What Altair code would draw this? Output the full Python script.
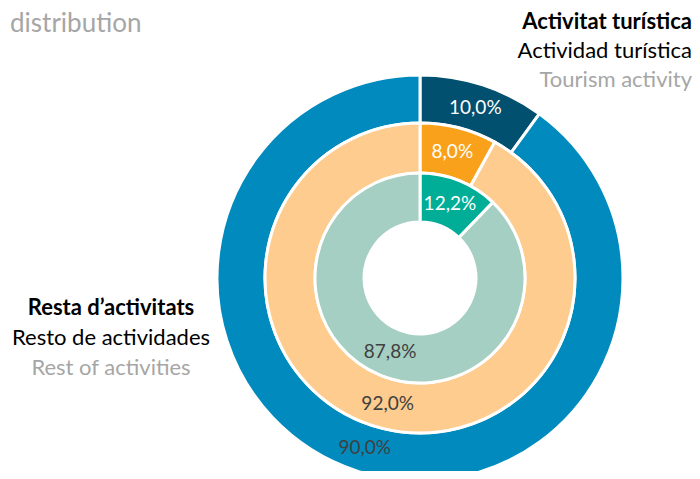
import altair as alt
import pandas as pd

# ---- data -------------------------------------------------------------
rings = ["outer", "outer", "middle", "middle", "inner", "inner"]
categories = ["Activitat turística", "Resta d'activitats"] * 3
shares = [10.0, 90.0, 8.0, 92.0, 12.2, 87.8]
order_idx = [0, 1, 0, 1, 0, 1]
fill_colors = ["#02506F", "#008ABD", "#F9A11B", "#FDCC8E", "#00AE98", "#A5CFC2"]
label_colors = ["#FFFFFF", "#404040"] * 3

title_lines = ["distribution"]
tourism_lines = ["Activitat turística", "Actividad turística", "Tourism activity"]
rest_lines = ["Resta d’activitats", "Resto de actividades", "Rest of activities"]

df = pd.DataFrame({
    "ring": rings,
    "category": categories,
    "share": shares,
    "idx": order_idx,
    "fill": fill_colors,
    "tcolor": label_colors,
})
df["label"] = [f"{v:.1f}%".replace(".", ",") for v in shares]

# ---- layout -----------------------------------------------------------
FONT = "Lato"
CX, CY = 412, 270
geometry = {  # inner, outer, label radius
    "outer": (155, 203, 179),
    "middle": (105, 155, 130),
    "inner": (56, 105, 80),
}

layers = []
for ring, (r_in, r_out, r_mid) in geometry.items():
    base = alt.Chart(df).transform_filter(alt.datum.ring == ring).encode(
        theta=alt.Theta("share:Q", stack=True),
        order=alt.Order("idx:Q"),
        x=alt.value(CX),
        y=alt.value(CY),
    )
    arc = base.mark_arc(innerRadius=r_in, outerRadius=r_out,
                        stroke="white", strokeWidth=3).encode(
        color=alt.Color("fill:N", scale=None)
    )
    txt = base.mark_text(radius=r_mid, font=FONT, fontSize=19,
                         baseline="middle", align="center").encode(
        text="label:N",
        color=alt.Color("tcolor:N", scale=None),
    )
    layers += [arc, txt]


def text_layer(line, x, y, color, bold=False, align="center", size=22,
               baseline="middle"):
    return alt.Chart(pd.DataFrame({"t": [line]})).mark_text(
        font=FONT, fontSize=size, fontWeight="bold" if bold else "normal",
        align=align, baseline=baseline, color=color,
    ).encode(text="t:N", x=alt.value(x), y=alt.value(y))


tour_colors = ["#000000", "#000000", "#A6A6A6"]
for i, line in enumerate(tourism_lines):
    layers.append(text_layer(line, 684, 14 + 29 * i, tour_colors[i],
                             bold=(i == 0), align="right"))
for i, line in enumerate(rest_lines):
    layers.append(text_layer(line, 103, 300 + 30 * i, tour_colors[i],
                             bold=(i == 0), align="center"))
layers.append(text_layer(title_lines[0], 2, 16, "#A6A6A6", align="left",
                         size=26, baseline="middle"))

chart = alt.layer(*layers).properties(
    width=684, height=463,
    autosize=alt.AutoSizeParams(type="none"),
    padding=0,
).configure_view(stroke=None)

chart.save("out.html", embed_options={"renderer": "svg", "actions": False})
